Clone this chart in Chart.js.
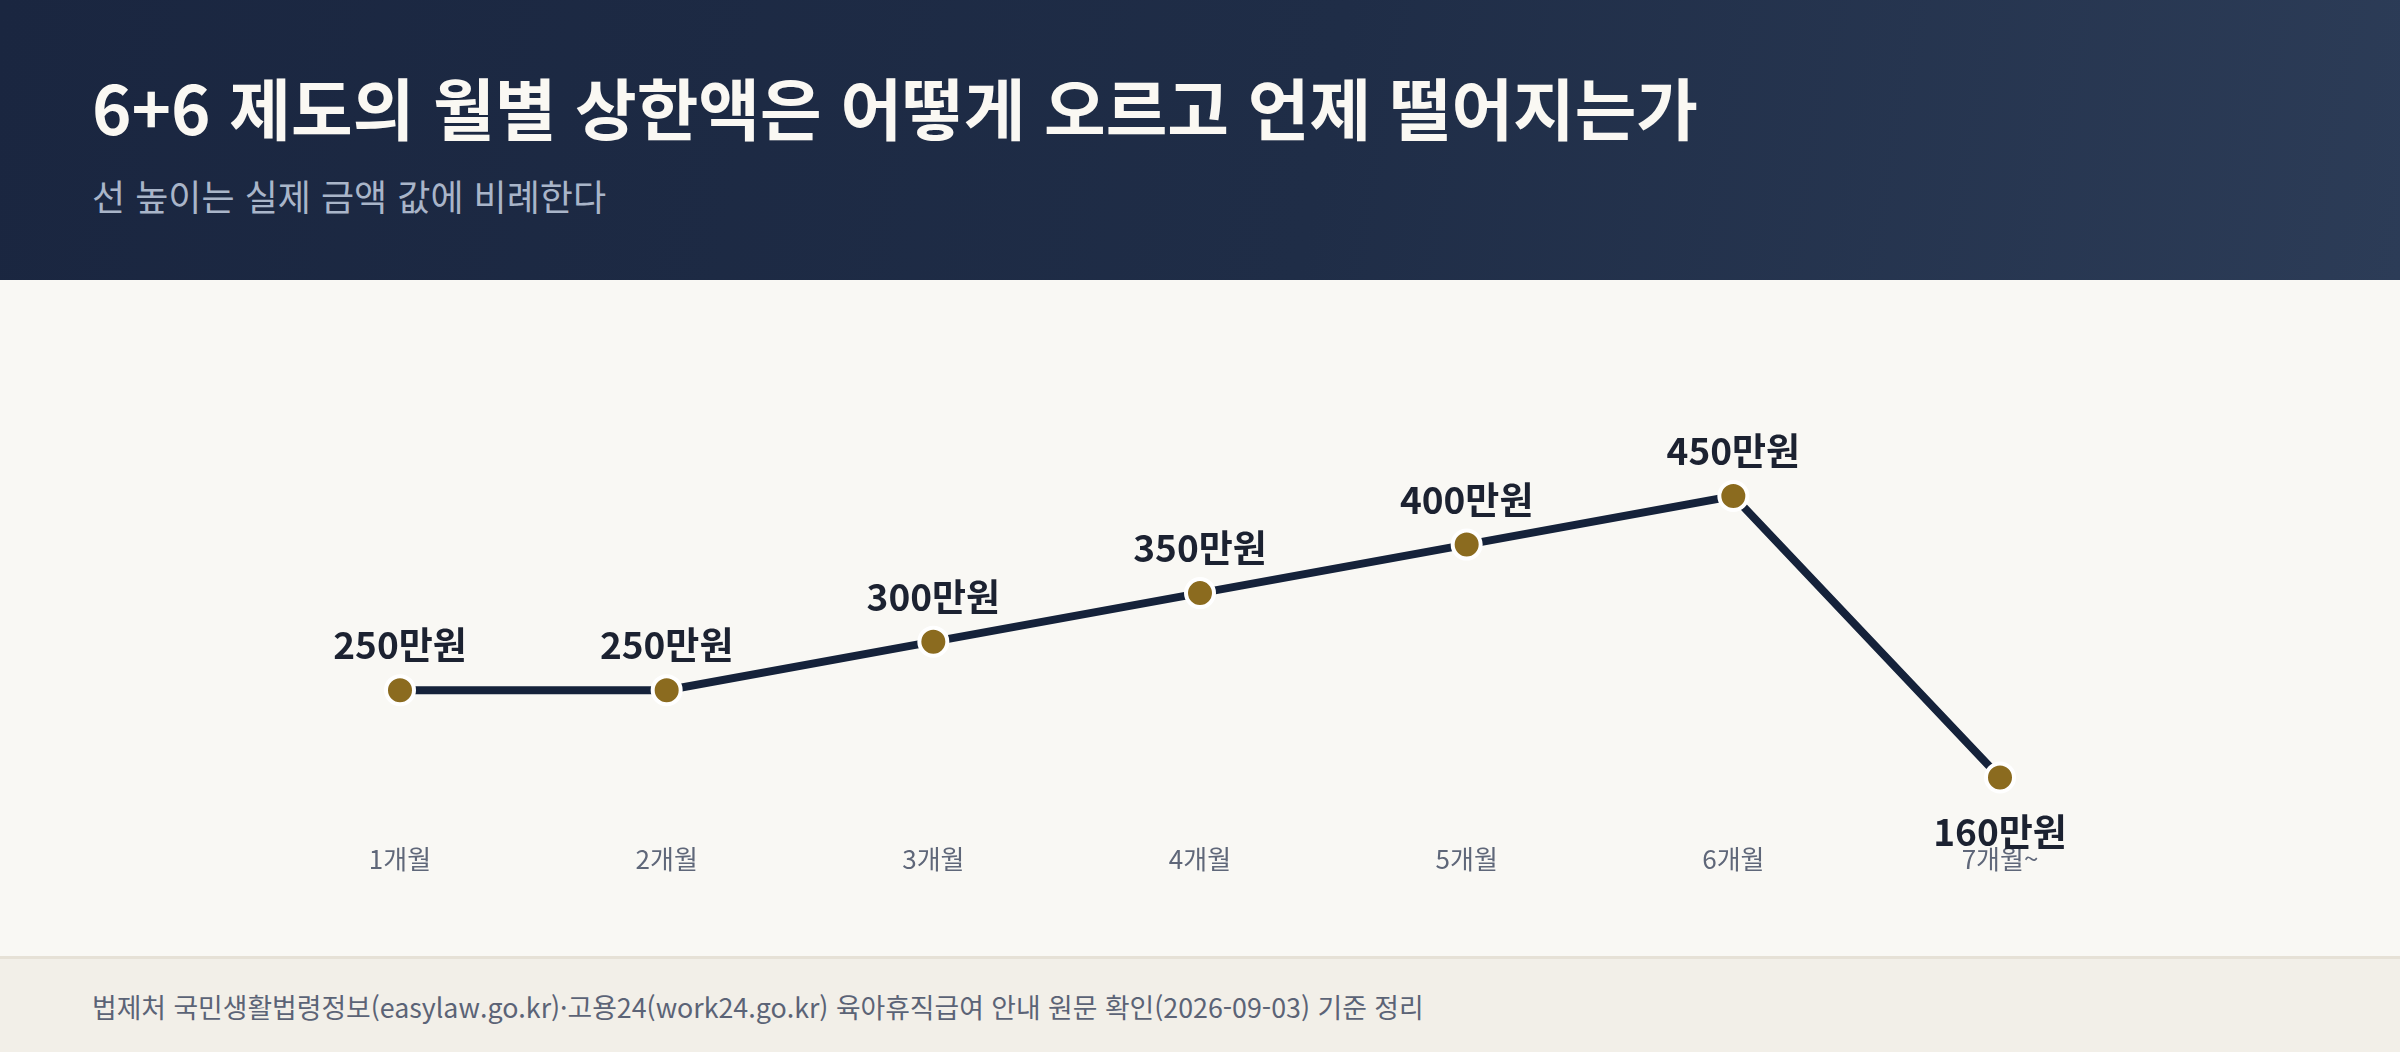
<!DOCTYPE html>
<html lang="ko">
<head>
<meta charset="utf-8">
<title>6+6 제도 월별 상한액</title>
<script src="https://cdn.jsdelivr.net/npm/chart.js@4.4.1/dist/chart.umd.min.js"></script>
<style>
    html, body {
        margin: 0;
        padding: 0;
        width: 2400px;
        height: 1052px;
        overflow: hidden;
        background: #f9f8f4;
        font-family: "Noto Sans CJK KR", sans-serif;
    }
    #header {
        position: absolute;
        left: 0;
        top: 0;
        width: 2400px;
        height: 280px;
        background: linear-gradient(100deg, #1a2640 0%, #1f2d47 55%, #2c3c57 100%);
    }
    #title {
        position: absolute;
        left: 92px;
        top: 72px;
        font-size: 67px;
        line-height: 67px;
        font-weight: 700;
        color: #faf8f3;
        white-space: nowrap;
    }
    #subtitle {
        position: absolute;
        left: 92px;
        top: 177px;
        font-size: 36px;
        line-height: 36px;
        font-weight: 400;
        color: #a9b5c9;
        white-space: nowrap;
    }
    #chart-box {
        position: absolute;
        left: 0;
        top: 280px;
        width: 2400px;
        height: 676px;
    }
    #footer {
        position: absolute;
        left: 0;
        top: 956px;
        width: 2400px;
        height: 96px;
        background: #f2efe8;
        border-top: 3px solid #e6e1d6;
        box-sizing: border-box;
    }
    #source {
        position: absolute;
        left: 92px;
        top: 34px;
        font-size: 26.8px;
        line-height: 27px;
        color: #5b6376;
        white-space: nowrap;
    }
</style>
</head>
<body>
<div id="header">
    <div id="title">6+6 제도의 월별 상한액은 어떻게 오르고 언제 떨어지는가</div>
    <div id="subtitle">선 높이는 실제 금액 값에 비례한다</div>
</div>
<div id="chart-box"><canvas id="cap-chart"></canvas></div>
<div id="footer">
    <div id="source">법제처 국민생활법령정보(easylaw.go.kr)·고용24(work24.go.kr) 육아휴직급여 안내 원문 확인(2026-09-03) 기준 정리</div>
</div>

<script>
/*
 *  Data
 */

const months = ['1개월', '2개월', '3개월', '4개월', '5개월', '6개월', '7개월~'];
const monthlyCap = [250, 250, 300, 350, 400, 450, 160];
const unitLabel = '만원';

/*
 *  Globals
 */

let capChart, ctx;
const fontStack = '"Noto Sans CJK KR", sans-serif';

/*
 *  Plugin: value labels over (or under) each point
 */

const valueLabels = {
    id: 'valueLabels',
    afterDatasetsDraw(chart) {
        const c = chart.ctx;
        const meta = chart.getDatasetMeta(0);
        c.save();
        c.font = '700 37px ' + fontStack;
        c.fillStyle = '#1c2231';
        c.textAlign = 'center';
        c.textBaseline = 'middle';
        meta.data.forEach((pt, i) => {
            let v = monthlyCap[i];
            // a drop gets its label underneath
            let below = i > 0 && v < monthlyCap[i - 1];
            let y = below ? pt.y + 54 : pt.y - 45;
            c.fillText(v + unitLabel, pt.x, y);
        });
        c.restore();
    }
};

/*
 *  Document Listener
 */

document.addEventListener("DOMContentLoaded", () => {
    Chart.defaults.font.family = fontStack;
    ctx = document.getElementById('cap-chart').getContext('2d');
    capChart = new Chart(ctx, {
        type: 'line',
        data: {
            labels: months,
            datasets: [
                {
                    label: '월별 상한액',
                    data: monthlyCap,
                    borderColor: '#15223a',
                    borderWidth: 8,
                    fill: false,
                    tension: 0,
                    clip: false,
                    pointRadius: 14,
                    pointHoverRadius: 14,
                    pointBackgroundColor: '#8b6b1f',
                    pointBorderColor: '#ffffff',
                    pointBorderWidth: 4,
                }
            ]
        },
        options: {
            responsive: true,
            maintainAspectRatio: false,
            animation: false,
            events: [],
            layout: {
                padding: { left: 400, right: 400, top: 167.5, bottom: 73 }
            },
            plugins: {
                legend: { display: false },
                tooltip: { enabled: false },
            },
            scales: {
                x: {
                    offset: false,
                    grid: { display: false, drawTicks: false },
                    border: { display: false },
                    ticks: {
                        color: '#5f6779',
                        font: { size: 26 },
                        padding: 8,
                        maxRotation: 0,
                        autoSkip: false,
                    }
                },
                y: {
                    display: false,
                    min: 100,
                    max: 500,
                }
            }
        },
        plugins: [valueLabels]
    });
});
</script>
</body>
</html>
